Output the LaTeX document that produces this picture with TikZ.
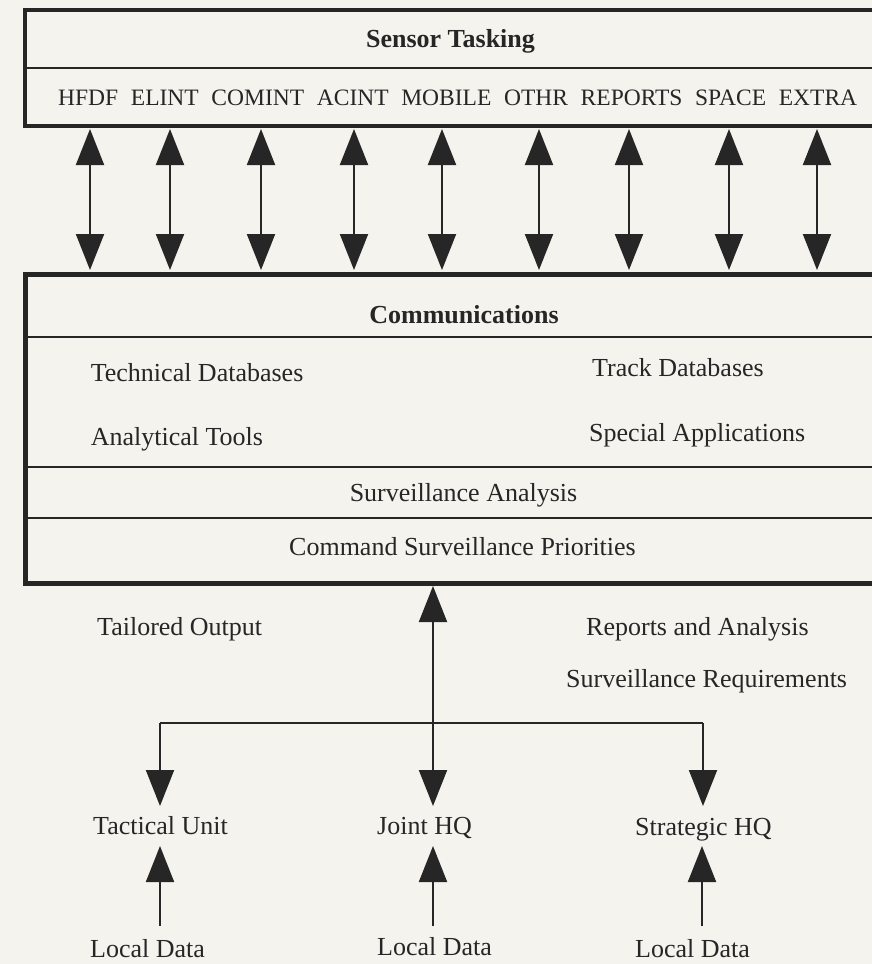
\documentclass[tikz,border=0pt]{standalone}
\usepackage{fontspec}
\setmainfont{Liberation Serif}
\usetikzlibrary{arrows.meta}
\definecolor{paper}{HTML}{F4F3EE}
\definecolor{ink}{HTML}{262626}
\tikzset{
  lbl/.style={font=\fontsize{26}{30}\selectfont, inner sep=0pt, text=ink},
  lblw/.style={lbl, anchor=base west},
  lblc/.style={lbl, anchor=base},
  ttl/.style={lbl, anchor=base, font=\fontsize{26}{30}\selectfont\bfseries},
  frame/.style={draw=ink, line width=5pt},
  sep/.style={draw=ink, line width=2.6pt},
  arr/.style={draw=ink, line width=2pt, -{Triangle[length=36pt,width=28pt]}, fill=ink},
  darr/.style={draw=ink, line width=2pt, {Triangle[length=36pt,width=28pt]}-{Triangle[length=36pt,width=28pt]}, fill=ink},
  plain/.style={draw=ink, line width=2.4pt},
}
\begin{document}
\begin{tikzpicture}[x=1pt, y=-1pt]
\clip (0,0) rectangle (872,964);
\fill[paper] (0,0) rectangle (872,964);

% ---- Sensor Tasking box
\draw[frame, line width=4.6pt] (25,10) rectangle (900,126);
\draw[sep] (25,68) -- (900,68);
\node[ttl] (st) at (450.5,47) {Sensor Tasking};
\node[lblw, font=\fontsize{23.5}{28}\selectfont] (sensors) at (58,105)
  {\hbox to 799pt{HFDF\hfill ELINT\hfill COMINT\hfill ACINT\hfill MOBILE\hfill OTHR\hfill REPORTS\hfill SPACE\hfill EXTRA}};

% ---- Communications box
\draw[frame] (25,274) rectangle (900,583);
\draw[sep] (25,337) -- (900,337);
\draw[sep] (25,467) -- (900,467);
\draw[sep] (25,518) -- (900,518);
\node[ttl] (comm) at (464,323) {Communications};
\node[lblw] (techdb) at (90.6,381) {Technical Databases};
\node[lblw] (trackdb) at (592,376) {Track Databases};
\node[lblw] (anatools) at (90.6,445) {Analytical Tools};
\node[lblw] (specapp) at (589,441) {Special Applications};
\node[lblc] (survan) at (463.5,501) {Surveillance Analysis};
\node[lblc] (csp) at (462.5,555) {Command Surveillance Priorities};

% ---- double arrows between the boxes
\foreach \i/\x in {1/90,2/170,3/261,4/354,5/442,6/539,7/629,8/729,9/817}{
  \coordinate (up\i) at (\x,129);
  \coordinate (dn\i) at (\x,270);
  \draw[darr] (up\i) -- (dn\i);
}

% ---- lower labels
\node[lblw] (tailored) at (97,635) {Tailored Output};
\node[lblw] (repan) at (586,635) {Reports and Analysis};
\node[lblw] (survreq) at (566,687) {Surveillance Requirements};
\node[lblw] (tac) at (93,834) {Tactical Unit};
\node[lblw] (jhq) at (377,834) {Joint HQ};
\node[lblw] (shq) at (635,835) {Strategic HQ};
\node[lblw] (ld1) at (90,957) {Local Data};
\node[lblw] (ld2) at (377,955) {Local Data};
\node[lblw] (ld3) at (635,957) {Local Data};

% ---- distribution tree
\coordinate (cbot) at (433,586);
\coordinate (jl) at (160,723);
\coordinate (jm) at (433,723);
\coordinate (jr) at (703,723);
\draw[arr] (jm) -- (cbot);
\draw[plain] (jl) -- (jr);
\coordinate (tl) at (160,806);
\coordinate (tm) at (433,806);
\coordinate (tr) at (703,806);
\draw[arr] (jl) -- (tl);
\draw[arr] (jm) -- (tm);
\draw[arr] (jr) -- (tr);

% ---- local data arrows
\coordinate (l1) at (160,926);
\coordinate (l2) at (433,926);
\coordinate (l3) at (702,926);
\coordinate (u1) at (160,846);
\coordinate (u2) at (433,846);
\coordinate (u3) at (702,846);
\draw[arr] (l1) -- (u1);
\draw[arr] (l2) -- (u2);
\draw[arr] (l3) -- (u3);
\end{tikzpicture}
\end{document}
